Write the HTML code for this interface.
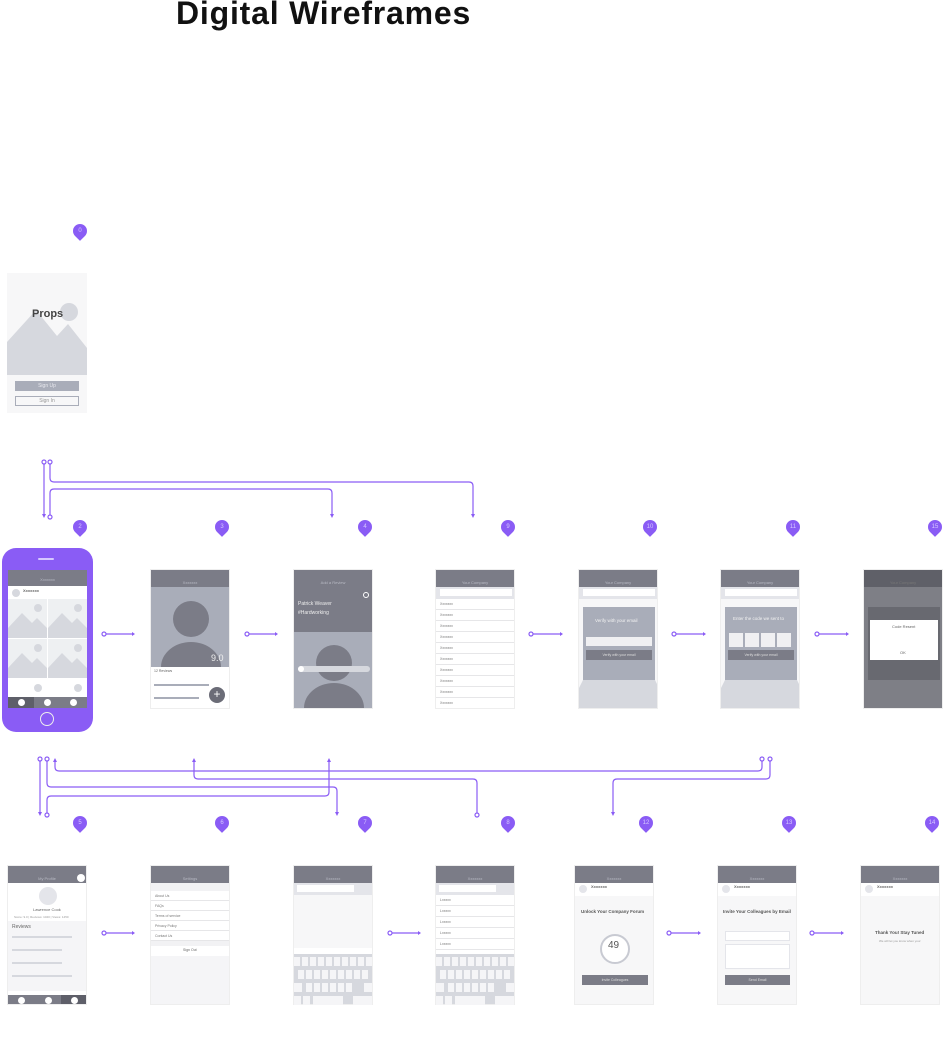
<!DOCTYPE html>
<html><head><meta charset="utf-8"><style>
*{margin:0;padding:0;box-sizing:border-box}
body{width:950px;height:1046px;background:#fff;position:relative;overflow:hidden;font-family:"Liberation Sans",sans-serif}
.a{position:absolute}
.scr{position:absolute;width:80px;height:140px;background:#f7f7f8;overflow:hidden;border:1px solid #eee}
.st{position:absolute;left:0;top:0;width:100%;height:9px;background:#7b7c87}
.nv{position:absolute;left:0;top:9px;width:100%;height:8px;background:#7b7c87;color:#b8bac4;font-size:4px;text-align:center;line-height:8px}
.row{position:absolute;left:0;width:100%;height:11px;border-bottom:1px solid #e6e6e8;font-size:3.5px;color:#777;padding-left:4px;line-height:11px}
.t{position:absolute;font-size:4px;color:#666;white-space:nowrap}
.pin{position:absolute;width:14px;height:14px;background:#8a5cf5;border-radius:50% 50% 50% 0;transform:rotate(-45deg)}
.pn{position:absolute;width:14px;text-align:center;font-size:6px;color:#d6c8ff;line-height:14px}
</style></head><body>
<div class="a" style="left:176px;top:-5px;font-size:32px;font-weight:bold;color:#111;letter-spacing:0.8px">Digital Wireframes</div>

<svg class="a" style="left:0;top:0" width="950" height="1046">
<g fill="none" stroke="#8a5cf5" stroke-width="1.2">
<path d="M44 464V515"/><path d="M50 464V478Q50 482 54 482H469Q473 482 473 486V515"/>
<path d="M50 515V493Q50 489 54 489H328Q332 489 332 493V515"/>
<circle cx="44" cy="462" r="2" fill="#fff"/><circle cx="50" cy="462" r="2" fill="#fff"/><circle cx="50" cy="517" r="2" fill="#fff"/>
<path d="M55 761V767Q55 771 59 771H758Q762 771 762 767V761"/>
<path d="M194 761V775Q194 779 198 779H473Q477 779 477 783V813"/>
<path d="M47 761V783Q47 787 51 787H333Q337 787 337 791V813"/>
<path d="M329 761V792Q329 796 325 796H51Q47 796 47 800V813"/>
<path d="M40 761V813"/>
<path d="M770 761V775Q770 779 766 779H617Q613 779 613 783V813"/>
<circle cx="40" cy="759" r="2" fill="#fff"/><circle cx="47" cy="759" r="2" fill="#fff"/><circle cx="762" cy="759" r="2" fill="#fff"/><circle cx="770" cy="759" r="2" fill="#fff"/><circle cx="47" cy="815" r="2" fill="#fff"/><circle cx="477" cy="815" r="2" fill="#fff"/>
<path d="M106 634H132M249 634H275M533 634H560M676 634H703M819 634H846M106 933H132M392 933H418M671 933H698M814 933H841"/>
<circle cx="104" cy="634" r="2" fill="#fff"/><circle cx="247" cy="634" r="2" fill="#fff"/><circle cx="531" cy="634" r="2" fill="#fff"/><circle cx="674" cy="634" r="2" fill="#fff"/><circle cx="817" cy="634" r="2" fill="#fff"/><circle cx="104" cy="933" r="2" fill="#fff"/><circle cx="390" cy="933" r="2" fill="#fff"/><circle cx="669" cy="933" r="2" fill="#fff"/><circle cx="812" cy="933" r="2" fill="#fff"/>
</g>
<g fill="#8a5cf5">
<path d="M42 514h4l-2 4z"/><path d="M471 514h4l-2 4z"/><path d="M330 514h4l-2 4z"/>
<path d="M53 762h4l-2-4z"/><path d="M192 762h4l-2-4z"/><path d="M327 762h4l-2-4z"/>
<path d="M335 812h4l-2 4z"/><path d="M38 812h4l-2 4z"/><path d="M611 812h4l-2 4z"/>
<path d="M132 632v4l3-2z"/><path d="M275 632v4l3-2z"/><path d="M560 632v4l3-2z"/><path d="M703 632v4l3-2z"/><path d="M846 632v4l3-2z"/><path d="M132 931v4l3-2z"/><path d="M418 931v4l3-2z"/><path d="M698 931v4l3-2z"/><path d="M841 931v4l3-2z"/>
</g>
</svg>

<div class="pin" style="left:73px;top:224px"></div><div class="pn" style="left:73px;top:224px">0</div>
<div class="pin" style="left:73px;top:520px"></div><div class="pn" style="left:73px;top:520px">2</div>
<div class="pin" style="left:215px;top:520px"></div><div class="pn" style="left:215px;top:520px">3</div>
<div class="pin" style="left:358px;top:520px"></div><div class="pn" style="left:358px;top:520px">4</div>
<div class="pin" style="left:501px;top:520px"></div><div class="pn" style="left:501px;top:520px">9</div>
<div class="pin" style="left:643px;top:520px"></div><div class="pn" style="left:643px;top:520px">10</div>
<div class="pin" style="left:786px;top:520px"></div><div class="pn" style="left:786px;top:520px">11</div>
<div class="pin" style="left:928px;top:520px"></div><div class="pn" style="left:928px;top:520px">15</div>
<div class="pin" style="left:73px;top:816px"></div><div class="pn" style="left:73px;top:816px">5</div>
<div class="pin" style="left:215px;top:816px"></div><div class="pn" style="left:215px;top:816px">6</div>
<div class="pin" style="left:358px;top:816px"></div><div class="pn" style="left:358px;top:816px">7</div>
<div class="pin" style="left:501px;top:816px"></div><div class="pn" style="left:501px;top:816px">8</div>
<div class="pin" style="left:639px;top:816px"></div><div class="pn" style="left:639px;top:816px">12</div>
<div class="pin" style="left:782px;top:816px"></div><div class="pn" style="left:782px;top:816px">13</div>
<div class="pin" style="left:925px;top:816px"></div><div class="pn" style="left:925px;top:816px">14</div>

<div class="scr" style="left:7px;top:273px;height:140px;border:none">
<svg class="a" style="left:0;top:27px" width="80" height="75"><circle cx="62" cy="12" r="9" fill="#d6d8de"/><path d="M0 42L29 10L50 36L61 24L80 48V75H0Z" fill="#d6d8de"/></svg>
<div class="t" style="left:25px;top:35px;font-size:11px;font-weight:bold;color:#444">Props</div>
<div class="a" style="left:8px;top:108px;width:64px;height:10px;background:#a9adb9;color:#e8e8ee;font-size:5px;text-align:center;line-height:10px">Sign Up</div>
<div class="a" style="left:8px;top:123px;width:64px;height:10px;border:1px solid #a9adb9;color:#999;font-size:5px;text-align:center;line-height:8px">Sign In</div>
</div>

<div class="a" style="left:2px;top:548px;width:91px;height:184px;background:#8a5cf5;border-radius:14px"></div>
<div class="a" style="left:38px;top:558px;width:16px;height:2px;border:1px solid #d6c8ff;border-radius:2px"></div>
<div class="a" style="left:40px;top:712px;width:14px;height:14px;border:1px solid #eee;border-radius:50%"></div>
<div class="scr" style="left:8px;top:570px;width:79px;height:138px;border:none;background:#fff">
<div class="st" style="height:6px"></div><div class="nv" style="top:6px;height:10px">Xxxxxxx</div>
<div class="a" style="left:4px;top:19px;width:8px;height:8px;border-radius:50%;background:#d6d8de"></div>
<div class="t" style="left:15px;top:18px;font-weight:bold">Xxxxxxx</div>
<svg class="a" style="left:0;top:29px" width="79" height="96">
<g fill="#d6d8de"><rect x="0" y="0" width="39" height="39" fill="#eef0f2"/><rect x="40" y="0" width="39" height="39" fill="#eef0f2"/><rect x="0" y="40" width="39" height="39" fill="#eef0f2"/><rect x="40" y="40" width="39" height="39" fill="#eef0f2"/>
<path d="M0 29L14 14L24 24L29 19L39 29V39H0Z"/><path d="M40 29L54 14L64 24L69 19L79 29V39H40Z"/><path d="M0 69L14 54L24 64L29 59L39 69V79H0Z"/><path d="M40 69L54 54L64 64L69 59L79 69V79H40Z"/>
<circle cx="30" cy="9" r="4"/><circle cx="70" cy="9" r="4"/><circle cx="30" cy="49" r="4"/><circle cx="70" cy="49" r="4"/><circle cx="30" cy="89" r="4"/><circle cx="70" cy="89" r="4"/></g></svg>
<div class="a" style="left:0;top:127px;width:79px;height:11px;background:#7b7c87"></div>
<div class="a" style="left:0;top:127px;width:26px;height:11px;background:#5e5f69"></div>
<div class="a" style="left:10px;top:129px;width:7px;height:7px;border-radius:50%;background:#fff"></div>
<div class="a" style="left:36px;top:129px;width:7px;height:7px;border-radius:50%;background:#fff"></div>
<div class="a" style="left:62px;top:129px;width:7px;height:7px;border-radius:50%;background:#fff"></div>
</div>

<div class="scr" style="left:150px;top:569px;background:#fff">
<div class="st"></div><div class="nv">Xxxxxxx</div>
<div class="a" style="left:0;top:17px;width:80px;height:80px;background:#a9adb9"></div>
<div class="a" style="left:22px;top:31px;width:36px;height:36px;border-radius:50%;background:#7b7c87"></div>
<div class="a" style="left:10px;top:72px;width:60px;height:50px;border-radius:50%;background:#7b7c87"></div>
<div class="t" style="left:60px;top:83px;font-size:9px;color:#eee">9.0</div>
<div class="t" style="left:0;top:97px;font-size:3.5px;background:#fff;width:80px;height:43px;padding:2px 3px">12 Reviews</div>
<div class="a" style="left:3px;top:114px;width:55px;height:2px;background:#a9adb9"></div>
<div class="a" style="left:3px;top:127px;width:45px;height:2px;background:#a9adb9"></div>
<div class="a" style="left:58px;top:117px;width:16px;height:16px;border-radius:50%;background:#6b6c77;color:#fff;font-size:12px;text-align:center;line-height:15px">+</div>
</div>

<div class="scr" style="left:293px;top:569px;background:#a9adb9">
<div class="st"></div><div class="nv">Add a Review</div>
<div class="a" style="left:0;top:17px;width:80px;height:45px;background:#7b7c87"></div>
<div class="t" style="left:4px;top:31px;font-size:5px;color:#eee">Patrick Weaver</div>
<div class="t" style="left:4px;top:40px;font-size:5px;color:#eee">#Hardworking</div>
<div class="a" style="left:69px;top:22px;width:6px;height:6px;border:1px solid #fff;border-radius:50%"></div>
<div class="a" style="left:22px;top:75px;width:36px;height:36px;border-radius:50%;background:#7b7c87"></div>
<div class="a" style="left:10px;top:113px;width:60px;height:50px;border-radius:50%;background:#7b7c87"></div>
<div class="a" style="left:4px;top:96px;width:72px;height:6px;border-radius:3px;background:#d6d8de"></div>
<div class="a" style="left:4px;top:96px;width:6px;height:6px;border-radius:50%;background:#fff"></div>
</div>

<div class="scr" style="left:435px;top:569px;background:#fff">
<div class="st"></div><div class="nv">Your Company</div>
<div class="a" style="left:0;top:17px;width:80px;height:12px;background:#e4e5ea"></div>
<div class="a" style="left:4px;top:19px;width:72px;height:7px;background:#fff"></div>
<div class="row" style="top:29px">Xxxxxxx</div><div class="row" style="top:40px">Xxxxxxx</div><div class="row" style="top:51px">Xxxxxxx</div><div class="row" style="top:62px">Xxxxxxx</div><div class="row" style="top:73px">Xxxxxxx</div><div class="row" style="top:84px">Xxxxxxx</div><div class="row" style="top:95px">Xxxxxxx</div><div class="row" style="top:106px">Xxxxxxx</div><div class="row" style="top:117px">Xxxxxxx</div><div class="row" style="top:128px">Xxxxxxx</div>
</div>

<div class="scr" style="left:578px;top:569px">
<div class="st"></div><div class="nv">Your Company</div>
<div class="a" style="left:0;top:17px;width:80px;height:12px;background:#e4e5ea"></div>
<div class="a" style="left:4px;top:19px;width:72px;height:7px;background:#fff"></div>
<svg class="a" style="left:0;top:110px" width="80" height="30"><path d="M0 8L4 0H76L80 8V30H0Z" fill="#d6d8de"/></svg>
<div class="a" style="left:4px;top:37px;width:72px;height:73px;background:#a9adb9"></div>
<div class="t" style="left:16px;top:48px;font-size:4.5px;color:#f2f2f2">Verify with your email</div>
<div class="a" style="left:7px;top:67px;width:66px;height:9px;background:#f0f0f2"></div>
<div class="a" style="left:7px;top:80px;width:66px;height:10px;background:#7b7c87;color:#ddd;font-size:3.5px;text-align:center;line-height:10px">Verify with your email</div>
</div>

<div class="scr" style="left:720px;top:569px">
<div class="st"></div><div class="nv">Your Company</div>
<div class="a" style="left:0;top:17px;width:80px;height:12px;background:#e4e5ea"></div>
<div class="a" style="left:4px;top:19px;width:72px;height:7px;background:#fff"></div>
<svg class="a" style="left:0;top:110px" width="80" height="30"><path d="M0 8L4 0H76L80 8V30H0Z" fill="#d6d8de"/></svg>
<div class="a" style="left:4px;top:37px;width:72px;height:73px;background:#a9adb9"></div>
<div class="t" style="left:12px;top:46px;font-size:4.5px;color:#f2f2f2">Enter the code we sent to</div>
<div class="a" style="left:8px;top:63px;width:14px;height:14px;background:#f0f0f2"></div><div class="a" style="left:24px;top:63px;width:14px;height:14px;background:#f0f0f2"></div><div class="a" style="left:40px;top:63px;width:14px;height:14px;background:#f0f0f2"></div><div class="a" style="left:56px;top:63px;width:14px;height:14px;background:#f0f0f2"></div>
<div class="a" style="left:7px;top:80px;width:66px;height:10px;background:#7b7c87;color:#ddd;font-size:3.5px;text-align:center;line-height:10px">Verify with your email</div>
</div>

<div class="scr" style="left:863px;top:569px;background:#7e7f86">
<div class="st" style="background:#5f6068"></div><div class="nv" style="background:#5f6068;color:#777">Your Company</div>
<div class="a" style="left:4px;top:37px;width:72px;height:73px;background:#686970"></div>
<div class="a" style="left:6px;top:50px;width:68px;height:40px;background:#fff"></div>
<div class="t" style="left:28px;top:54px;font-size:4px">Code Resent</div>
<div class="t" style="left:36px;top:80px;font-size:4px">OK</div>
</div>

<div class="scr" style="left:7px;top:865px;background:#fff">
<div class="st"></div><div class="nv">My Profile</div>
<div class="a" style="left:69px;top:8px;width:8px;height:8px;border-radius:50%;background:#fff"></div>
<div class="a" style="left:31px;top:21px;width:18px;height:18px;border-radius:50%;background:#e4e5ea"></div>
<div class="t" style="left:25px;top:41px;font-size:4px">Lawrence Cook</div>
<div class="t" style="left:6px;top:49px;font-size:3px;color:#999">Score: 9.0 | Reviews: 1020 | Views: 1450</div>
<div class="a" style="left:0;top:55px;width:80px;height:70px;background:#f5f5f7"></div>
<div class="t" style="left:4px;top:58px;font-size:5px">Reviews</div>
<div class="a" style="left:4px;top:70px;width:60px;height:2px;background:#d6d8de"></div>
<div class="a" style="left:4px;top:83px;width:50px;height:2px;background:#d6d8de"></div>
<div class="a" style="left:4px;top:96px;width:50px;height:2px;background:#d6d8de"></div>
<div class="a" style="left:4px;top:109px;width:60px;height:2px;background:#d6d8de"></div>
<div class="a" style="left:0;top:129px;width:80px;height:11px;background:#7b7c87"></div>
<div class="a" style="left:53px;top:129px;width:27px;height:11px;background:#5e5f69"></div>
<div class="a" style="left:10px;top:131px;width:7px;height:7px;border-radius:50%;background:#fff"></div>
<div class="a" style="left:37px;top:131px;width:7px;height:7px;border-radius:50%;background:#fff"></div>
<div class="a" style="left:63px;top:131px;width:7px;height:7px;border-radius:50%;background:#fff"></div>
</div>

<div class="scr" style="left:150px;top:865px;background:#fff">
<div class="st"></div><div class="nv">Settings</div>
<div class="a" style="left:0;top:17px;width:80px;height:8px;background:#f2f2f4"></div>
<div class="row" style="top:25px;height:10px;line-height:10px">About Us</div><div class="row" style="top:35px;height:10px;line-height:10px">FAQs</div><div class="row" style="top:45px;height:10px;line-height:10px">Terms of service</div><div class="row" style="top:55px;height:10px;line-height:10px">Privacy Policy</div><div class="row" style="top:65px;height:10px;line-height:10px">Contact Us</div>
<div class="a" style="left:0;top:75px;width:80px;height:5px;background:#f2f2f4"></div>
<div class="t" style="left:32px;top:82px;font-size:3.5px">Sign Out</div>
<div class="a" style="left:0;top:90px;width:80px;height:50px;background:#f5f5f7"></div>
</div>

<div class="scr" style="left:293px;top:865px">
<div class="st"></div><div class="nv">Xxxxxxx</div>
<div class="a" style="left:0;top:17px;width:80px;height:12px;background:#e4e5ea"></div>
<div class="a" style="left:3px;top:19px;width:57px;height:7px;background:#fff"></div>
<div class="a" style="left:0;top:88px;width:80px;height:52px;background:#d6d8de"></div>
<div class="a" style="left:0;top:82px;width:80px;height:6px;background:#fff"></div>
</div>
<div class="scr" style="left:435px;top:865px;background:#fff">
<div class="st"></div><div class="nv">Xxxxxxx</div>
<div class="a" style="left:0;top:17px;width:80px;height:12px;background:#e4e5ea"></div>
<div class="a" style="left:3px;top:19px;width:57px;height:7px;background:#fff"></div>
<div class="row" style="top:29px">Lxxxxx</div><div class="row" style="top:40px">Lxxxxx</div><div class="row" style="top:51px">Lxxxxx</div><div class="row" style="top:62px">Lxxxxx</div><div class="row" style="top:73px">Lxxxxx</div>
<div class="a" style="left:0;top:88px;width:80px;height:52px;background:#d6d8de"></div>
</div>
<svg class="a" style="left:293px;top:955px" width="80" height="50"><g fill="#f5f5f7"><rect x="1" y="2" width="6" height="9"/><rect x="9" y="2" width="6" height="9"/><rect x="17" y="2" width="6" height="9"/><rect x="25" y="2" width="6" height="9"/><rect x="33" y="2" width="6" height="9"/><rect x="41" y="2" width="6" height="9"/><rect x="49" y="2" width="6" height="9"/><rect x="57" y="2" width="6" height="9"/><rect x="65" y="2" width="6" height="9"/><rect x="73" y="2" width="6" height="9"/><rect x="5" y="15" width="6" height="9"/><rect x="13" y="15" width="6" height="9"/><rect x="21" y="15" width="6" height="9"/><rect x="29" y="15" width="6" height="9"/><rect x="37" y="15" width="6" height="9"/><rect x="45" y="15" width="6" height="9"/><rect x="53" y="15" width="6" height="9"/><rect x="61" y="15" width="6" height="9"/><rect x="69" y="15" width="6" height="9"/><rect x="1" y="28" width="8" height="9"/><rect x="13" y="28" width="6" height="9"/><rect x="21" y="28" width="6" height="9"/><rect x="29" y="28" width="6" height="9"/><rect x="37" y="28" width="6" height="9"/><rect x="45" y="28" width="6" height="9"/><rect x="53" y="28" width="6" height="9"/><rect x="71" y="28" width="8" height="9"/><rect x="1" y="41" width="7" height="9"/><rect x="10" y="41" width="7" height="9"/><rect x="20" y="41" width="30" height="9"/><rect x="60" y="41" width="19" height="9"/></g></svg>
<svg class="a" style="left:435px;top:955px" width="80" height="50"><g fill="#f5f5f7"><rect x="1" y="2" width="6" height="9"/><rect x="9" y="2" width="6" height="9"/><rect x="17" y="2" width="6" height="9"/><rect x="25" y="2" width="6" height="9"/><rect x="33" y="2" width="6" height="9"/><rect x="41" y="2" width="6" height="9"/><rect x="49" y="2" width="6" height="9"/><rect x="57" y="2" width="6" height="9"/><rect x="65" y="2" width="6" height="9"/><rect x="73" y="2" width="6" height="9"/><rect x="5" y="15" width="6" height="9"/><rect x="13" y="15" width="6" height="9"/><rect x="21" y="15" width="6" height="9"/><rect x="29" y="15" width="6" height="9"/><rect x="37" y="15" width="6" height="9"/><rect x="45" y="15" width="6" height="9"/><rect x="53" y="15" width="6" height="9"/><rect x="61" y="15" width="6" height="9"/><rect x="69" y="15" width="6" height="9"/><rect x="1" y="28" width="8" height="9"/><rect x="13" y="28" width="6" height="9"/><rect x="21" y="28" width="6" height="9"/><rect x="29" y="28" width="6" height="9"/><rect x="37" y="28" width="6" height="9"/><rect x="45" y="28" width="6" height="9"/><rect x="53" y="28" width="6" height="9"/><rect x="71" y="28" width="8" height="9"/><rect x="1" y="41" width="7" height="9"/><rect x="10" y="41" width="7" height="9"/><rect x="20" y="41" width="30" height="9"/><rect x="60" y="41" width="19" height="9"/></g></svg>

<div class="scr" style="left:574px;top:865px;background:#fff">
<div class="st"></div><div class="nv">Xxxxxxx</div>
<div class="a" style="left:4px;top:19px;width:8px;height:8px;border-radius:50%;background:#e4e5ea"></div>
<div class="t" style="left:16px;top:18px;font-weight:bold">Xxxxxxx</div>
<div class="a" style="left:0;top:30px;width:80px;height:110px;background:#f7f7f8"></div>
<div class="t" style="left:6px;top:43px;font-size:4.5px;font-weight:bold;color:#555">Unlock Your Company Forum</div>
<div class="a" style="left:25px;top:68px;width:30px;height:30px;border-radius:50%;border:2px solid #c8cad2;background:#fff"></div>
<div class="t" style="left:33px;top:74px;font-size:10px;color:#555">49</div>
<div class="a" style="left:7px;top:109px;width:66px;height:10px;background:#7b7c87;color:#ddd;font-size:3.5px;text-align:center;line-height:10px">Invite Colleagues</div>
</div>

<div class="scr" style="left:717px;top:865px;background:#fff">
<div class="st"></div><div class="nv">Xxxxxxx</div>
<div class="a" style="left:4px;top:19px;width:8px;height:8px;border-radius:50%;background:#e4e5ea"></div>
<div class="t" style="left:16px;top:18px;font-weight:bold">Xxxxxxx</div>
<div class="a" style="left:0;top:30px;width:80px;height:110px;background:#f7f7f8"></div>
<div class="t" style="left:5px;top:43px;font-size:4.5px;font-weight:bold;color:#555">Invite Your Colleagues by Email</div>
<div class="a" style="left:7px;top:65px;width:65px;height:10px;background:#fff;border:1px solid #e4e5ea"></div>
<div class="a" style="left:7px;top:78px;width:65px;height:25px;background:#fff;border:1px solid #e4e5ea"></div>
<div class="a" style="left:7px;top:109px;width:65px;height:10px;background:#7b7c87;color:#ddd;font-size:3.5px;text-align:center;line-height:10px">Send Email</div>
</div>

<div class="scr" style="left:860px;top:865px;background:#fff">
<div class="st"></div><div class="nv">Xxxxxxx</div>
<div class="a" style="left:4px;top:19px;width:8px;height:8px;border-radius:50%;background:#e4e5ea"></div>
<div class="t" style="left:16px;top:18px;font-weight:bold">Xxxxxxx</div>
<div class="a" style="left:0;top:30px;width:80px;height:110px;background:#f7f7f8"></div>
<div class="t" style="left:14px;top:64px;font-size:4.5px;font-weight:bold;color:#555">Thank You! Stay Tuned</div>
<div class="t" style="left:18px;top:73px;font-size:3px;color:#999">We will let you know when your</div>
</div>
</body></html>
